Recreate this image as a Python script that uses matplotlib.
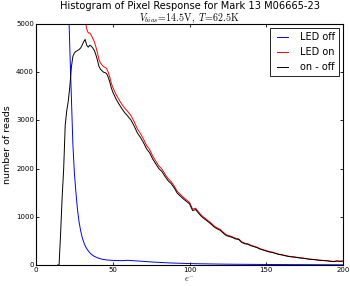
import numpy as np
import matplotlib
matplotlib.use('Agg')
import matplotlib.pyplot as plt

# electron bins: step 1 up to 50, then step 2
x = np.concatenate([np.arange(14, 51), np.arange(52, 201, 2)])

led_off = [30000, 22000, 16000, 12000, 9500, 7500, 7000, 5600, 4500, 3500,
           2500, 1900, 1500, 1150, 900, 720, 580, 480, 400, 340,
           295, 255, 225, 200, 180, 165, 150, 140, 130, 120,
           115, 110, 105, 102, 100, 98, 96,
           94, 92, 90, 95, 97, 92, 88, 84, 80, 75,
           70, 66, 62, 58, 55, 52, 48, 45, 42, 40,
           38, 36, 34, 32, 30, 29, 27, 26, 25, 24,
           23, 22, 21, 20, 19, 18, 17, 17, 16, 16,
           15, 15, 14, 14, 13, 13, 12, 12, 11, 11,
           11, 10, 10, 10, 9, 9, 9, 8, 8, 8,
           8, 7, 7, 7, 7, 6, 6, 6, 6, 6,
           5, 5, 5, 4, 4]

led_on = [30000, 22000, 16650, 13400, 11500, 10400, 10200, 9000, 8200, 7600,
          6830, 6300, 5930, 5600, 5370, 5220, 5140, 5110, 5080, 4900,
          4815, 4815, 4765, 4700, 4630, 4525, 4400, 4260, 4190, 4150,
          4115, 4100, 4075, 4002, 3900, 3778, 3686,
          3544, 3432, 3330, 3245, 3177, 3092, 2968, 2824, 2730, 2615,
          2480, 2396, 2262, 2158, 2055, 1992, 1888, 1795, 1732, 1640,
          1528, 1466, 1404, 1352, 1300, 1159, 1177, 1096, 1025, 974,
          923, 872, 811, 770, 739, 678, 627, 606, 585, 554,
          543, 482, 452, 441, 410, 390, 369, 339, 318, 298,
          278, 267, 247, 226, 216, 201, 186, 175, 170, 160,
          150, 144, 134, 124, 119, 112, 103, 98, 93, 88,
          80, 75, 87, 79, 84]

on_off = [0, 0, 650, 1400, 2000, 2900, 3200, 3400, 3700, 4100,
          4330, 4400, 4430, 4450, 4470, 4500, 4560, 4630, 4680, 4560,
          4520, 4560, 4540, 4500, 4450, 4360, 4250, 4120, 4060, 4030,
          4000, 3990, 3970, 3900, 3800, 3680, 3590,
          3450, 3340, 3240, 3150, 3080, 3000, 2880, 2740, 2650, 2540,
          2410, 2330, 2200, 2100, 2000, 1940, 1840, 1750, 1690, 1600,
          1490, 1430, 1370, 1320, 1270, 1130, 1150, 1070, 1000, 950,
          900, 850, 790, 750, 720, 660, 610, 590, 570, 540,
          530, 470, 440, 430, 400, 380, 360, 330, 310, 290,
          270, 260, 240, 220, 210, 195, 180, 170, 165, 155,
          145, 140, 130, 120, 115, 108, 100, 95, 90, 85,
          75, 70, 82, 75, 80]

xticks = [0, 50, 100, 150, 200]
yticks = [0, 1000, 2000, 3000, 4000, 5000]

plt.style.use('classic')
fig = plt.figure(figsize=(3.5, 2.86), dpi=100, facecolor='white')
ax = fig.add_axes([0.103, 0.0734, 0.877, 0.8427])

ax.plot(x, led_off, 'b-', lw=0.7, label='LED off')
ax.plot(x, led_on, 'r-', lw=0.7, label='LED on')
ax.plot(x, on_off, 'k-', lw=0.7, label='on - off')

ax.set_xlim(0, 200)
ax.set_ylim(0, 5000)
ax.set_xticks(xticks)
ax.set_yticks(yticks)
ax.tick_params(labelsize=5, length=2.5, width=0.6, pad=1.5)
for s in ax.spines.values():
    s.set_linewidth(0.8)
ax.set_xlabel('$e^{-}$', fontsize=6, labelpad=1)
ax.set_ylabel('number of reads', fontsize=6.8, labelpad=3)
ax.set_title('Histogram of Pixel Response for Mark 13 M06665-23\n'
             r'$V_{bias}\!=\!14.5\mathrm{V},\ T\!=\!62.5\mathrm{K}$',
             fontsize=7.15, pad=2, linespacing=1.1)
leg = ax.legend(loc='upper right', fontsize=7, handlelength=1.75,
                borderpad=0.45, labelspacing=0.5, handletextpad=0.9,
                borderaxespad=0.4)
leg.get_frame().set_linewidth(0.6)

fig.savefig('out.png', dpi=100, facecolor='white')
